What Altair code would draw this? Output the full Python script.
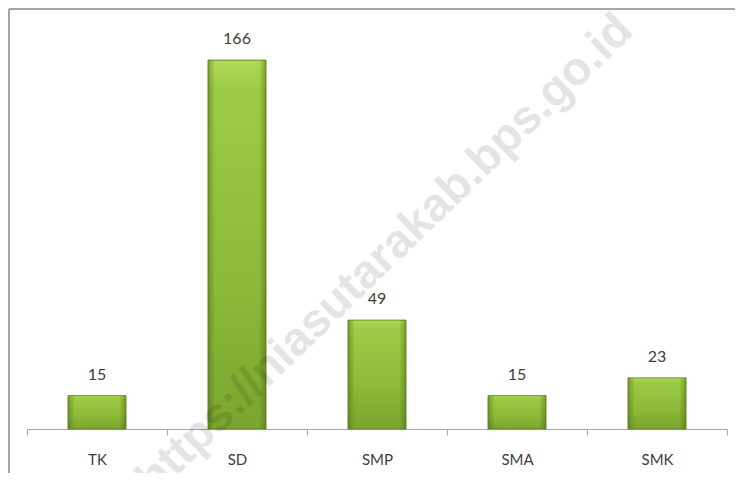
import altair as alt
import pandas as pd

categories = ["TK", "SD", "SMP", "SMA", "SMK"]
values = [15, 166, 49, 15, 23]
watermark = "https://niasutarakab.bps.go.id"

df = pd.DataFrame({"cat": categories, "val": values})

W, H = 700, 400
xenc = alt.X("cat:N", sort=categories,
             scale=alt.Scale(paddingInner=0, paddingOuter=0),
             axis=alt.Axis(title=None, labelAngle=0, tickBand="extent",
                           domainColor="#a6a6a6", tickColor="#a6a6a6",
                           domainWidth=1, tickWidth=1, tickSize=6,
                           labelFontSize=15, labelColor="#404040",
                           labelFont="Lato", labelPadding=17))
yenc = alt.Y("val:Q", scale=alt.Scale(domain=[0, 180], nice=False), axis=None)

base = alt.Chart(df)

bars = base.mark_bar(
    size=58,
    stroke="#6b8f26", strokeWidth=1,
    color=alt.LinearGradient(
        gradient="linear", x1=0, x2=0, y1=0, y2=1,
        stops=[alt.GradientStop(color="#b0db58", offset=0),
               alt.GradientStop(color="#9ccc45", offset=0.08),
               alt.GradientStop(color="#8cba39", offset=0.6),
               alt.GradientStop(color="#7aa52e", offset=1)])
).encode(x=xenc, y=yenc)

edges = base.mark_bar(
    size=58,
    color=alt.LinearGradient(
        gradient="linear", x1=0, x2=1, y1=0, y2=0,
        stops=[alt.GradientStop(color="rgba(70,95,15,0.45)", offset=0),
               alt.GradientStop(color="rgba(70,95,15,0)", offset=0.12),
               alt.GradientStop(color="rgba(70,95,15,0)", offset=0.88),
               alt.GradientStop(color="rgba(70,95,15,0.45)", offset=1)])
).encode(x=xenc, y=yenc)

labels = base.mark_text(
    baseline="bottom", dy=-13, fontSize=16, font="Lato", color="#404040"
).encode(x=xenc, y=yenc, text="val:Q")

wm = alt.Chart(pd.DataFrame({"t": [watermark]})).mark_text(
    angle=316, fontSize=47, font="Liberation Sans", fontWeight="bold",
    color="#000000", opacity=0.1, align="center", baseline="middle"
).encode(x=alt.value(358), y=alt.value(226), text="t:N")

dummy = pd.DataFrame({"a": [0]})
top_line = alt.Chart(dummy).mark_rule(
    color="#a6a6a6", strokeWidth=2, clip=False
).encode(x=alt.value(-18), x2=alt.value(708), y=alt.value(-20))
left_line = alt.Chart(dummy).mark_rule(
    color="#a6a6a6", strokeWidth=2, clip=False
).encode(x=alt.value(-18), y=alt.value(-20), y2=alt.value(444))

chart = alt.layer(top_line, left_line, bars, edges, labels, wm).properties(
    width=W, height=H,
    background="white",
    autosize=alt.AutoSizeParams(type="none"),
    padding={"left": 19, "top": 21, "right": 8, "bottom": 44}
).configure_view(stroke=None, strokeWidth=0)

chart.save("out.html", embed_options={"renderer": "svg", "actions": False})
